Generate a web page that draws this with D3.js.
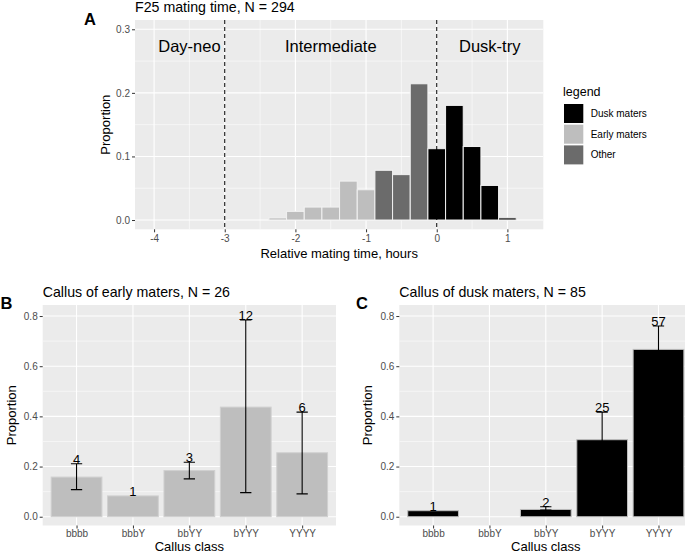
<!DOCTYPE html>
<html>
<head>
<meta charset="utf-8">
<script src="https://cdn.jsdelivr.net/npm/d3@7"></script>
<style>
  html, body { margin: 0; padding: 0; background: #fff; }
  svg { display: block; font-family: "Liberation Sans", Arial, Helvetica, sans-serif; }
</style>
</head>
<body>
<svg id="chart" width="685" height="556"></svg>
<script>
// ---------- Data ----------
const histCenters = [-2.25, -2, -1.75, -1.5, -1.25, -1, -0.75, -0.5, -0.25, 0, 0.25, 0.5, 0.75, 1];
const histProps = [0.0034, 0.0136, 0.0204, 0.0204, 0.0612, 0.0476, 0.0782, 0.0714, 0.2143, 0.1122, 0.1803, 0.1156, 0.0544, 0.0034];
const histGroups = ["Early maters", "Early maters", "Early maters", "Early maters", "Early maters", "Early maters",
                    "Other", "Other", "Other",
                    "Dusk maters", "Dusk maters", "Dusk maters", "Dusk maters", "Dusk maters"];
const histBinWidth = 0.25;
const histXTicks = [-4, -3, -2, -1, 0, 1];
const histYTicks = [0, 0.1, 0.2, 0.3];
const cutoffs = [-3, 0];
const zoneLabels = ["Day-neo", "Intermediate", "Dusk-try"];
const zoneX = [-3.5, -1.5, 0.75];
const zoneY = 0.273;
const legendNames = ["Dusk maters", "Early maters", "Other"];
const legendColors = ["#000000", "#bebebe", "#6b6b6b"];

const callusClasses = ["bbbb", "bbbY", "bbYY", "bYYY", "YYYY"];
const earlyProp = [0.158, 0.083, 0.184, 0.437, 0.255];
const earlyLo = [0.108, null, 0.151, 0.096, 0.091];
const earlyHi = [0.211, null, 0.217, 0.784, 0.417];
const earlyCount = ["4", "1", "3", "12", "6"];
const duskProp = [0.024, 0, 0.029, 0.307, 0.667];
const duskLo = [null, null, 0.027, 0.2, 0.57];
const duskHi = [null, null, 0.04, 0.417, 0.76];
const duskCount = ["1", "", "2", "25", "57"];
const callusYTicks = [0, 0.2, 0.4, 0.6, 0.8];

// ---------- Helpers ----------
const svg = d3.select("#chart");
const FONT = '"Liberation Sans", Arial, Helvetica, sans-serif';
const BG = "#ebebeb";
const TICK_COL = "#333333";
const TICK_LAB = "#4d4d4d";
const colorOf = d3.scaleOrdinal().domain(legendNames).range(legendColors);

function fmt1(v) { return d3.format(".1f")(v); }
function styleAxis(a) {
  a.attr("font-family", FONT).attr("font-size", 10);
  a.select(".domain").remove();
  a.selectAll(".tick line").attr("stroke", TICK_COL).attr("stroke-width", 1);
  a.selectAll(".tick text").attr("fill", TICK_LAB).attr("font-size", 10).attr("font-family", FONT);
}

// ---------- Panel A ----------
(function panelA() {
  const L = 135, R = 543.3, T = 20, B = 229.3;
  const x = d3.scaleLinear().domain([-4.27, 1.508]).range([L, R]);
  const y = d3.scaleLinear().domain([-0.0146, 0.3146]).range([B, T]);
  const g = svg.append("g");
  const clipId = "clipA";
  svg.append("clipPath").attr("id", clipId).append("rect").attr("x", L).attr("y", T).attr("width", R - L).attr("height", B - T);

  g.append("rect").attr("x", L).attr("y", T).attr("width", R - L).attr("height", B - T).attr("fill", BG);
  const grid = g.append("g").attr("clip-path", `url(#${clipId})`);
  const xMinor = [-3.5, -2.5, -1.5, -0.5, 0.5];
  const yMinor = [0.05, 0.15, 0.25];
  grid.selectAll(".xm").data(xMinor).join("line")
    .attr("x1", d => x(d)).attr("x2", d => x(d)).attr("y1", T).attr("y2", B)
    .attr("stroke", "#fff").attr("stroke-width", 0.55);
  grid.selectAll(".ym").data(yMinor).join("line")
    .attr("y1", d => y(d)).attr("y2", d => y(d)).attr("x1", L).attr("x2", R)
    .attr("stroke", "#fff").attr("stroke-width", 0.55);
  grid.selectAll(".xM").data(histXTicks).join("line")
    .attr("x1", d => x(d)).attr("x2", d => x(d)).attr("y1", T).attr("y2", B)
    .attr("stroke", "#fff").attr("stroke-width", 1.1);
  grid.selectAll(".yM").data(histYTicks).join("line")
    .attr("y1", d => y(d)).attr("y2", d => y(d)).attr("x1", L).attr("x2", R)
    .attr("stroke", "#fff").attr("stroke-width", 1.1);

  // bars
  const bars = histCenters.map((c, i) => ({ c, p: histProps[i], grp: histGroups[i] }));
  grid.selectAll(".bar").data(bars).join("rect")
    .attr("x", d => x(d.c - histBinWidth / 2))
    .attr("width", d => x(d.c + histBinWidth / 2) - x(d.c - histBinWidth / 2))
    .attr("y", d => y(d.p))
    .attr("height", d => y(0) - y(d.p))
    .attr("fill", d => colorOf(d.grp))
    .attr("stroke", "#f2f2f2").attr("stroke-width", 1);

  // dashed cutoffs
  grid.selectAll(".cut").data(cutoffs).join("line")
    .attr("x1", d => x(d)).attr("x2", d => x(d)).attr("y1", T).attr("y2", B)
    .attr("stroke", "#000").attr("stroke-width", 1).attr("stroke-dasharray", "4,3");

  // zone labels
  g.selectAll(".zone").data(zoneLabels).join("text")
    .attr("x", (d, i) => x(zoneX[i])).attr("y", y(zoneY)).attr("dy", "0.35em")
    .attr("text-anchor", "middle").attr("font-size", 16.5).attr("fill", "#000")
    .text(d => d);

  // axes
  const xAxis = d3.axisBottom(x).tickValues(histXTicks).tickSize(3).tickPadding(2).tickFormat(d3.format("d"));
  const ax = g.append("g").attr("transform", `translate(0,${B})`).call(xAxis);
  const yAxis = d3.axisLeft(y).tickValues(histYTicks).tickSize(3).tickPadding(2).tickFormat(fmt1);
  const ay = g.append("g").attr("transform", `translate(${L},0)`).call(yAxis);
  styleAxis(ax); styleAxis(ay);
  ax.selectAll(".tick text").text(d => d < 0 ? "-" + Math.abs(d) : String(d)).attr("dy", "0.78em");

  g.append("text").attr("x", (L + R) / 2).attr("y", 257.5).attr("text-anchor", "middle")
    .attr("font-size", 13).text("Relative mating time, hours");
  g.append("text").attr("transform", `translate(109.5,${(T + B) / 2}) rotate(-90)`).attr("text-anchor", "middle")
    .attr("font-size", 13).text("Proportion");
  g.append("text").attr("x", 135).attr("y", 12).attr("font-size", 14.2).text("F25 mating time, N = 294");
  g.append("text").attr("x", 84).attr("y", 25).attr("font-size", 16.5).attr("font-weight", "bold").text("A");

  // legend
  const lg = g.append("g");
  lg.append("text").attr("x", 563).attr("y", 96).attr("font-size", 12.5).text("legend");
  legendNames.forEach((n, i) => {
    const ky = 104 + i * 20.7;
    lg.append("rect").attr("x", 564).attr("y", ky).attr("width", 19.3).attr("height", 19)
      .attr("fill", colorOf(n));
    lg.append("text").attr("x", 590.7).attr("y", ky + 9.5).attr("dy", "0.35em")
      .attr("font-size", 10).text(n);
  });
})();

// ---------- Panels B & C ----------
function callusPanel(opts) {
  const { L, R, T, B, props, lo, hi, counts, fill, stroke, title, letter, letterX, yTitleX } = opts;
  // ggplot-style discrete positions: centers at L + (0.6 + i) * step
  const step = (R - L) / 5.2;
  const xs = d3.scalePoint().domain(callusClasses).range([L + 0.6 * step, L + 4.6 * step]);
  const bw = 0.9 * step;
  const y = d3.scaleLinear().domain([-0.035, 0.844]).range([B, T]);
  const g = svg.append("g");
  const clipId = "clip" + letter;
  svg.append("clipPath").attr("id", clipId).append("rect").attr("x", L).attr("y", T).attr("width", R - L).attr("height", B - T);

  g.append("rect").attr("x", L).attr("y", T).attr("width", R - L).attr("height", B - T).attr("fill", BG);
  const pg = g.append("g").attr("clip-path", `url(#${clipId})`);
  const yMinor = [0.1, 0.3, 0.5, 0.7];
  pg.selectAll(".ym").data(yMinor).join("line")
    .attr("y1", d => y(d)).attr("y2", d => y(d)).attr("x1", L).attr("x2", R)
    .attr("stroke", "#fff").attr("stroke-width", 0.55);
  pg.selectAll(".yM").data(callusYTicks).join("line")
    .attr("y1", d => y(d)).attr("y2", d => y(d)).attr("x1", L).attr("x2", R)
    .attr("stroke", "#fff").attr("stroke-width", 1.1);
  pg.selectAll(".xM").data(callusClasses).join("line")
    .attr("x1", d => xs(d)).attr("x2", d => xs(d)).attr("y1", T).attr("y2", B)
    .attr("stroke", "#fff").attr("stroke-width", 1.1);

  const data = callusClasses.map((c, i) => ({ c, i, p: props[i], lo: lo[i], hi: hi[i], n: counts[i] }));
  pg.selectAll(".bar").data(data.filter(d => d.p > 0)).join("rect")
    .attr("x", d => xs(d.c) - bw / 2).attr("width", bw)
    .attr("y", d => y(d.p)).attr("height", d => y(0) - y(d.p))
    .attr("fill", fill).attr("stroke", stroke).attr("stroke-width", 1);

  const eb = data.filter(d => d.hi !== null);
  const capW = 0.1 * step;
  pg.selectAll(".ebv").data(eb).join("line")
    .attr("x1", d => xs(d.c)).attr("x2", d => xs(d.c)).attr("y1", d => y(d.lo)).attr("y2", d => y(d.hi))
    .attr("stroke", "#000").attr("stroke-width", 1.1);
  pg.selectAll(".ebt").data(eb).join("line")
    .attr("x1", d => xs(d.c) - capW).attr("x2", d => xs(d.c) + capW).attr("y1", d => y(d.hi)).attr("y2", d => y(d.hi))
    .attr("stroke", "#000").attr("stroke-width", 1.1);
  pg.selectAll(".ebb").data(eb).join("line")
    .attr("x1", d => xs(d.c) - capW).attr("x2", d => xs(d.c) + capW).attr("y1", d => y(d.lo)).attr("y2", d => y(d.lo))
    .attr("stroke", "#000").attr("stroke-width", 1.1);

  pg.selectAll(".lab").data(data.filter(d => d.n !== "")).join("text")
    .attr("x", d => xs(d.c)).attr("y", d => y(d.hi !== null ? d.hi : d.p))
    .attr("text-anchor", "middle").attr("font-size", 13).attr("fill", "#000")
    .text(d => d.n);

  // axes
  const ax = g.append("g").attr("transform", `translate(0,${B})`)
    .call(d3.axisBottom(xs).tickSize(3).tickPadding(2));
  const ay = g.append("g").attr("transform", `translate(${L},0)`)
    .call(d3.axisLeft(y).tickValues(callusYTicks).tickSize(3).tickPadding(2).tickFormat(fmt1));
  styleAxis(ax); styleAxis(ay);
  ax.selectAll(".tick text").attr("dy", "0.64em");

  g.append("text").attr("x", (L + R) / 2).attr("y", 551).attr("text-anchor", "middle")
    .attr("font-size", 13).text("Callus class");
  g.append("text").attr("transform", `translate(${yTitleX},${(T + B) / 2}) rotate(-90)`).attr("text-anchor", "middle")
    .attr("font-size", 13).text("Proportion");
  g.append("text").attr("x", L).attr("y", 297).attr("font-size", 14.2).text(title);
  g.append("text").attr("x", letterX).attr("y", 309).attr("font-size", 16.5).attr("font-weight", "bold").text(letter);
}

callusPanel({
  L: 42.7, R: 336, T: 305, B: 525.5,
  props: earlyProp, lo: earlyLo, hi: earlyHi, counts: earlyCount,
  fill: "#bebebe", stroke: "#d0d0d0",
  title: "Callus of early maters, N = 26", letter: "B", letterX: 0.5, yTitleX: 15.5
});
callusPanel({
  L: 399.3, R: 692.3, T: 305, B: 525.5,
  props: duskProp, lo: duskLo, hi: duskHi, counts: duskCount,
  fill: "#000000", stroke: "#bdbdbd",
  title: "Callus of dusk maters, N = 85", letter: "C", letterX: 356, yTitleX: 372
});
</script>
</body>
</html>
